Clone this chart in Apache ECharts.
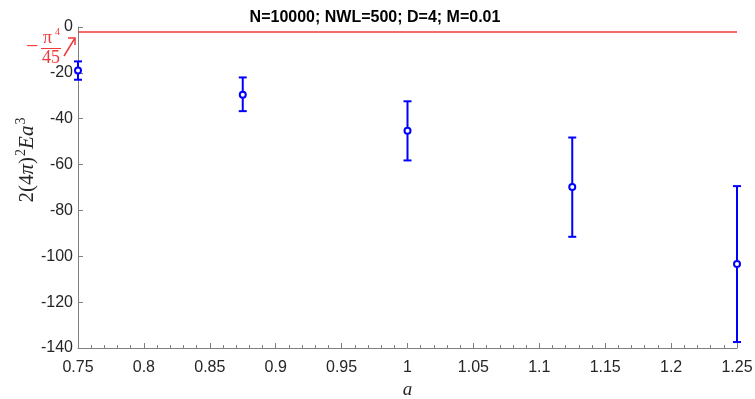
<!DOCTYPE html>
<html>
<head>
<meta charset="utf-8">
<script src="https://cdn.jsdelivr.net/npm/echarts@6/dist/echarts.min.js"></script>
<style>
  html, body { margin: 0; padding: 0; background: #fff; }
  #chart { width: 755px; height: 399px; }
</style>
</head>
<body>
<div id="chart"></div>
<script>
// 数据
const aValues = [0.75, 0.875, 1.0, 1.125, 1.25]
const energy = [-19, -29.5, -45.3, -69.8, -103.4]
const errLow = [-23, -36.7, -58.2, -91.5, -137.4]
const errHigh = [-15, -22, -32.4, -48.2, -69.4]
const refValue = -Math.pow(Math.PI, 4) / 45
const titleText = 'N=10000; NWL=500; D=4; M=0.01'

const blue = '#0000ff'
const red = '#f03a3a'
const axisGray = '#808080'
const labelColor = '#262626'
const serif = 'Liberation Serif'

const chart = echarts.init(document.getElementById('chart'))

const errData = aValues.map((a, i) => [a, energy[i], errLow[i], errHigh[i]])

chart.setOption({
  animation: false,
  title: {
    text: titleText,
    left: 370,
    top: 5,
    textAlign: 'center',
    textStyle: {fontFamily: 'Arial', fontSize: 16, fontWeight: 'bold', color: '#000'},
  },
  // 关掉 v6 的 outerBounds，网格位置按像素固定
  grid: {left: 78, right: 18, top: 27, bottom: 51, outerBoundsMode: 'none', containLabel: false},
  xAxis: {
    type: 'value',
    min: 0.75,
    max: 1.25,
    interval: 0.05,
    name: 'a',
    nameLocation: 'middle',
    nameGap: 32,
    nameTextStyle: {fontFamily: serif, fontStyle: 'italic', fontSize: 19, color: labelColor},
    axisLine: {onZero: false, lineStyle: {color: axisGray, width: 1}},
    axisTick: {inside: true, length: 5, lineStyle: {color: axisGray}},
    minorTick: {show: true, splitNumber: 5, length: 3, lineStyle: {color: axisGray}},
    axisLabel: {
      fontFamily: 'Arial', fontSize: 16, color: labelColor, margin: 12,
      formatter: (v) => String(+v.toFixed(2)),
    },
    splitLine: {show: false},
  },
  yAxis: {
    type: 'value',
    min: -140,
    max: 0,
    interval: 20,
    axisLine: {show: true, onZero: false, lineStyle: {color: axisGray, width: 1}},
    axisTick: {show: true, inside: true, length: 5, lineStyle: {color: axisGray}},
    axisLabel: {fontFamily: 'Arial', fontSize: 16, color: labelColor, margin: 5},
    splitLine: {show: false},
  },
  series: [
    {
      // -π^4/45 参考线
      type: 'line',
      data: [[0.75, refValue], [1.25, refValue]],
      symbol: 'none',
      lineStyle: {color: red, width: 1.5},
      z: 1,
    },
    {
      type: 'custom',
      data: errData,
      z: 3,
      renderItem: (params, api) => {
        const x = api.value(0)
        const c = api.coord([x, api.value(1)])
        const lo = api.coord([x, api.value(2)])
        const hi = api.coord([x, api.value(3)])
        const cap = 4
        const style = {stroke: blue, lineWidth: 2, fill: null}
        return {
          type: 'group',
          children: [
            {type: 'line', shape: {x1: lo[0], y1: lo[1], x2: hi[0], y2: hi[1]}, style},
            {type: 'line', shape: {x1: lo[0] - cap, y1: lo[1], x2: lo[0] + cap, y2: lo[1]}, style},
            {type: 'line', shape: {x1: hi[0] - cap, y1: hi[1], x2: hi[0] + cap, y2: hi[1]}, style},
            {type: 'circle', shape: {cx: c[0], cy: c[1], r: 3}, style: {stroke: blue, lineWidth: 2, fill: '#fff'}},
          ],
        }
      },
    },
  ],
  graphic: [
    // y 轴标题 2(4π)^2 E a^3
    {
      type: 'text',
      x: 27,
      y: 160,
      rotation: Math.PI / 2,
      style: {
        text: '{n|2(4}{i|π}{n|)}{s|2}{i|Ea}{s|3}',
        align: 'center',
        verticalAlign: 'middle',
        rich: {
          n: {fontFamily: serif, fontSize: 21, fill: labelColor},
          i: {fontFamily: serif, fontStyle: 'italic', fontSize: 21, fill: labelColor},
          s: {fontFamily: serif, fontSize: 14, fill: labelColor, verticalAlign: 'top', padding: [0, 0, 11, 1]},
        },
      },
    },
    // 注释：-π^4/45
    {type: 'text', left: 26, top: 36, style: {text: '−', fontFamily: serif, fontSize: 22, fill: red}},
    {type: 'text', left: 43, top: 29, style: {text: 'π', fontFamily: serif, fontSize: 18, fill: red}},
    {type: 'text', left: 55, top: 27, style: {text: '4', fontFamily: serif, fontSize: 10, fill: red}},
    {type: 'line', shape: {x1: 41, y1: 48.5, x2: 61, y2: 48.5}, style: {stroke: red, lineWidth: 1}},
    {type: 'text', left: 42, top: 49, style: {text: '45', fontFamily: serif, fontSize: 18, fill: red}},
    {type: 'line', shape: {x1: 64, y1: 56, x2: 75, y2: 38}, style: {stroke: red, lineWidth: 1.5}},
    {type: 'polyline', shape: {points: [[68, 38], [75, 38], [75, 45]]}, style: {stroke: red, lineWidth: 1.5, fill: null}},
  ],
})
</script>
</body>
</html>
